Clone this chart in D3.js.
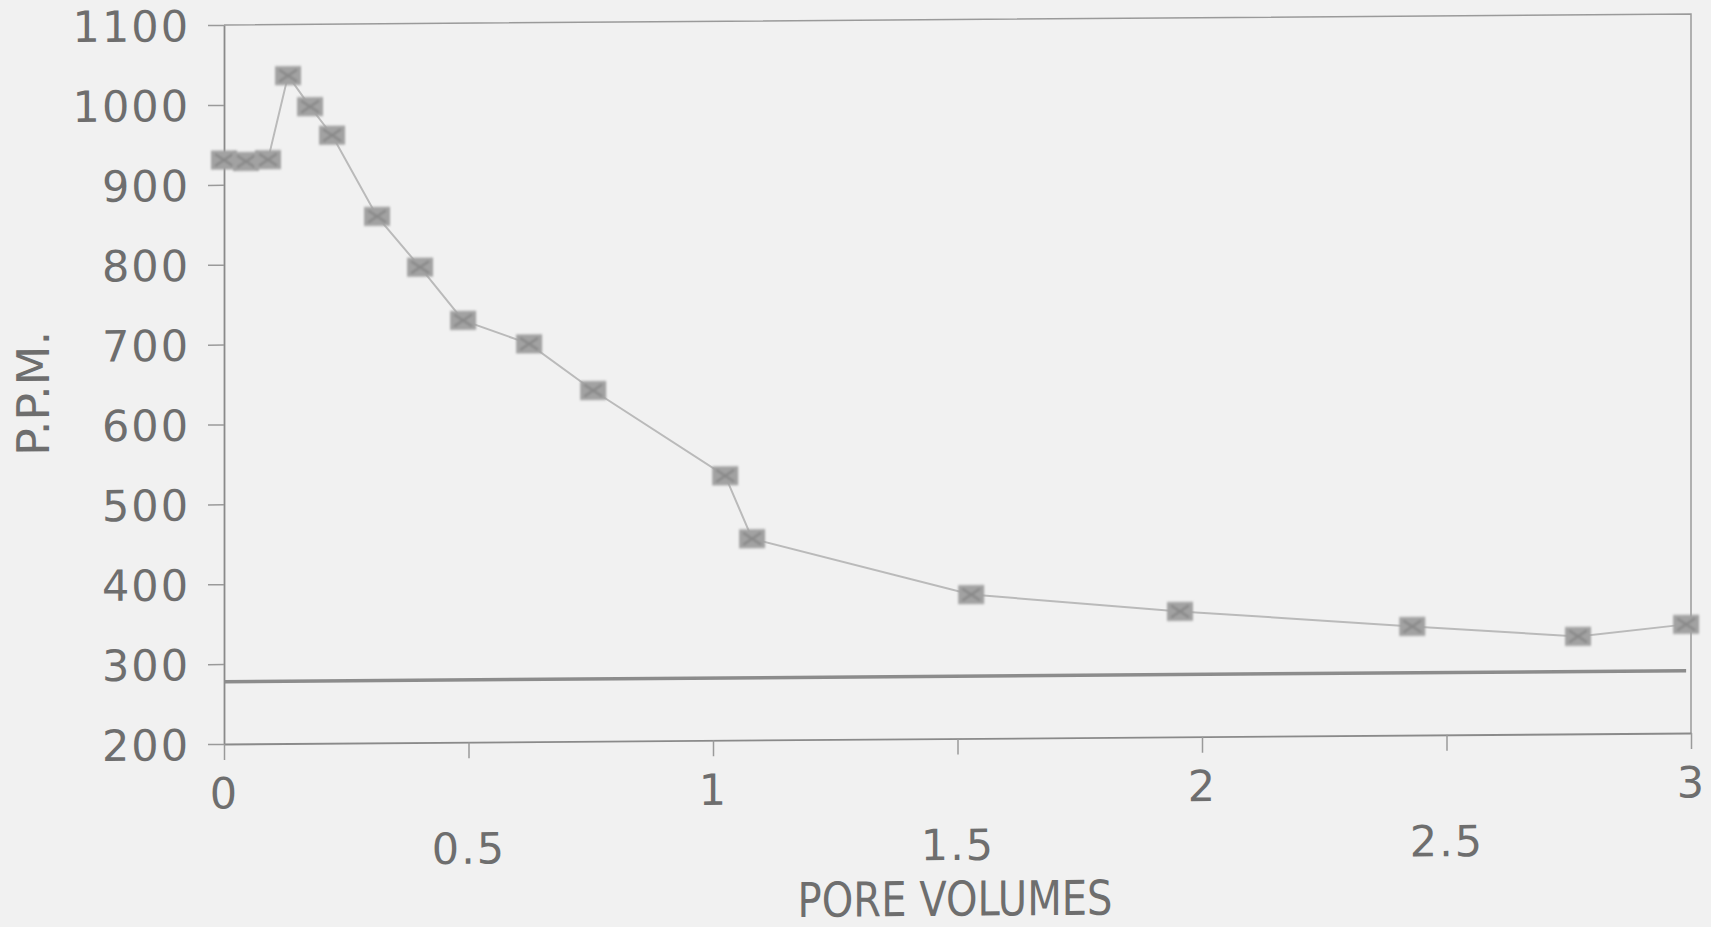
<!DOCTYPE html>
<html>
<head>
<meta charset="utf-8">
<script src="https://cdn.jsdelivr.net/npm/d3@7"></script>
<style>
    body { margin: 0; background: #f1f1f1; }
    svg { display: block; }
    text { font-family: "DejaVu Sans", sans-serif; fill: #6e6e6e; }
</style>
</head>
<body>
<div id="chart"></div>
<script>
// measured series: pore volumes vs concentration (p.p.m.)
const poreVolumes = [0, 0.045, 0.09, 0.131, 0.176, 0.221, 0.313, 0.401, 0.489, 0.624, 0.755, 1.025, 1.08, 1.528, 1.955, 2.43, 2.769, 2.99];
const ppmValues   = [931, 929, 931, 1036, 997, 961, 859, 795, 728, 698, 639, 531, 452, 380, 357, 336, 322, 336];

// flat reference level
const refVolumes = [0, 2.99];
const refPPM     = [278, 278];

// axis ticks
const xTicks = [0, 0.5, 1, 1.5, 2, 2.5, 3];
const yTicks = [200, 300, 400, 500, 600, 700, 800, 900, 1000, 1100];
const xTitle = "PORE VOLUMES";
const yTitle = "P.P.M.";

let margin = {top: 25, left: 224};
let width = 1467;
let height = 719;

let svg = d3.select("#chart").append("svg")
    .attr("width", 1711)
    .attr("height", 927);

svg.append("rect")
    .attr("width", 1711)
    .attr("height", 927)
    .attr("fill", "#f1f1f1");

// marker blur, the original is a scan
let defs = svg.append("defs");
defs.append("filter")
    .attr("id", "soft")
    .attr("x", "-30%").attr("y", "-30%")
    .attr("width", "160%").attr("height", "160%")
    .append("feGaussianBlur")
    .attr("stdDeviation", 1.1);

// the scanned page is slightly skewed, so shear the whole plot a bit
let g = svg.append("g")
    .attr("transform", `translate(${margin.left},${margin.top + height}) skewY(-0.43) translate(0,${-height})`);

// scales
let x = d3.scaleLinear().domain([0, 3]).range([0, width]);
let y = d3.scaleLinear().domain([200, 1100]).range([height, 0]);

// frame top + right
g.append("path")
    .attr("d", `M${x(0)},${y(1100)}H${x(3)}V${y(200)}`)
    .attr("fill", "none")
    .attr("stroke", "#9a9a9a")
    .attr("stroke-width", 1.5);

// y axis
let yAxis = g.append("g")
    .attr("class", "axis axis--y")
    .call(d3.axisLeft(y).tickValues(yTicks).tickSize(16).tickSizeOuter(0).tickPadding(18)
        .tickFormat(d3.format("d")));

// x axis
let xAxis = g.append("g")
    .attr("class", "axis axis--x")
    .attr("transform", `translate(0,${height})`)
    .call(d3.axisBottom(x).tickValues(xTicks).tickSize(16).tickSizeOuter(0)
        .tickFormat(d => d3.format("")(d)));

g.selectAll(".axis path.domain")
    .attr("stroke", "#8a8a8a")
    .attr("stroke-width", 1.8);
g.selectAll(".axis .tick line")
    .attr("stroke", "#9a9a9a")
    .attr("stroke-width", 1.5);
g.selectAll(".axis text")
    .attr("fill", "#6e6e6e")
    .style("font-family", '"DejaVu Sans", sans-serif')
    .style("font-size", "43px")
    .style("letter-spacing", "2px");

yAxis.selectAll("text")
    .attr("dy", "0.36em");

// staggered x labels: whole numbers high, halves low
xAxis.selectAll("text")
    .attr("y", d => Number.isInteger(d) ? 49 : 106)
    .attr("dy", "0.36em");

// reference line
let line = d3.line()
    .x(d => x(d[0]))
    .y(d => y(d[1]));

g.append("path")
    .datum(d3.zip(refVolumes, refPPM))
    .attr("d", line)
    .attr("fill", "none")
    .attr("stroke", "#8c8c8c")
    .attr("stroke-width", 3.5);

// data line
let series = d3.zip(poreVolumes, ppmValues);
g.append("path")
    .datum(series)
    .attr("d", line)
    .attr("fill", "none")
    .attr("stroke", "#bababa")
    .attr("stroke-width", 2);

// markers
let marks = g.selectAll(".mark")
    .data(series)
    .enter().append("g")
    .attr("class", "mark")
    .attr("transform", d => `translate(${x(d[0])},${y(d[1])})`)
    .attr("filter", "url(#soft)");

marks.append("rect")
    .attr("x", -13).attr("y", -9.5)
    .attr("width", 26).attr("height", 19)
    .attr("fill", "#a2a2a2");

marks.append("path")
    .attr("d", "M-9,-6L9,6M-9,6L9,-6")
    .attr("stroke", "#888888")
    .attr("stroke-width", 2.5);

// axis titles
g.append("text")
    .attr("x", x(1.495))
    .attr("y", height + 160)
    .attr("dy", "0.36em")
    .attr("text-anchor", "middle")
    .attr("textLength", 315)
    .attr("lengthAdjust", "spacingAndGlyphs")
    .style("font-size", "48px")
    .text(xTitle);

g.append("text")
    .attr("transform", `translate(${33 - margin.left},${392 - margin.top}) rotate(-90)`)
    .attr("dy", "0.36em")
    .attr("text-anchor", "middle")
    .attr("textLength", 125)
    .attr("lengthAdjust", "spacingAndGlyphs")
    .style("font-size", "45px")
    .text(yTitle);
</script>
</body>
</html>
